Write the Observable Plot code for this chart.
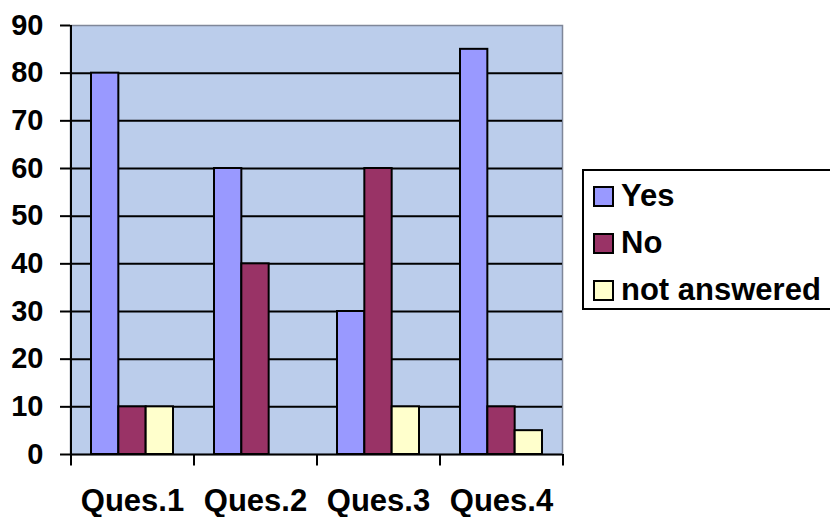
<!DOCTYPE html>
<html>
<head>
<meta charset="utf-8">
<script src="https://cdn.jsdelivr.net/npm/d3@7"></script>
<script src="https://cdn.jsdelivr.net/npm/@observablehq/plot@0.6"></script>
<style>
  html, body { margin: 0; padding: 0; background: #fff; }
  #wrap { position: relative; width: 830px; height: 517px; overflow: hidden; font-family: "Liberation Sans", Arial, sans-serif; }
  #legend { position: absolute; left: 582px; top: 169px; width: 260px; height: 137px; border: 2px solid #000; background: #fff; }
  .item { position: absolute; left: 9px; height: 30px; display: flex; align-items: center; font-weight: bold; font-size: 31px; color: #000; white-space: nowrap; }
  .sw { width: 17px; height: 17px; border: 2px solid #000; margin-right: 7px; box-sizing: content-box; }
</style>
</head>
<body>
<div id="wrap"><div id="chart"></div><div id="legend"></div></div>
<script>
const questions = ["Ques.1", "Ques.2", "Ques.3", "Ques.4"];
const yes = [80, 60, 30, 85];
const no = [10, 40, 60, 10];
const notAnswered = [10, 0, 10, 5];
const seriesNames = ["Yes", "No", "not answered"];
const seriesColors = ["#9999FF", "#993366", "#FFFFCC"];
const yTicks = [0, 10, 20, 30, 40, 50, 60, 70, 80, 90];
const gridValues = [10, 20, 30, 40, 50, 60, 70, 80];

const seriesValues = [yes, no, notAnswered];
const rows = questions.flatMap((q, i) => seriesNames.map((s, j) => ({q, s, v: seriesValues[j][i]})));

const W = 830, H = 517;
const mL = 70, mR = 268, mT = 25, mB = 63;
const step = (W - mL - mR) / questions.length;
const pad = 1 / 3;
const band = step * (1 - pad);
const sub = band / 3;

const bars = seriesNames.map((s, j) => Plot.barY(rows.filter(d => d.s === s), {
  x: "q", y: "v", fill: seriesColors[j], stroke: "#000", strokeWidth: 2,
  insetLeft: sub * j, insetRight: sub * (2 - j)
}));

const chart = Plot.plot({
  width: W, height: H,
  marginLeft: mL, marginRight: mR, marginTop: mT, marginBottom: mB,
  style: {fontFamily: "'Liberation Sans', Arial, sans-serif", fontWeight: "bold", fontSize: "29px", color: "#000", background: "transparent", overflow: "visible"},
  x: {domain: questions, paddingInner: pad, paddingOuter: pad / 2, axis: null},
  y: {domain: [0, 90], axis: null},
  marks: [
    Plot.frame({fill: "#BBCDEB", stroke: "#7f8799", strokeWidth: 1.5}),
    Plot.ruleY(gridValues, {stroke: "#000", strokeWidth: 2}),
    ...bars,
    Plot.ruleY([0], {stroke: "#000", strokeWidth: 2}),
    Plot.ruleX([questions[0]], {x: d => d, y1: -2.4, y2: 90, dx: -step / 2, stroke: "#000", strokeWidth: 2}),
    Plot.ruleX(questions, {x: d => d, y1: -2.4, y2: 0, dx: step / 2, stroke: "#000", strokeWidth: 2}),
    Plot.axisY({ticks: yTicks, tickSize: 10, tickPadding: 17, strokeWidth: 2, label: null, fontSize: 29, fontWeight: "bold"}),
    Plot.axisX({tickSize: 0, tickPadding: 34, label: null, fontSize: 31, fontWeight: "bold"})
  ]
});
document.getElementById("chart").appendChild(chart);

const legend = document.getElementById("legend");
seriesNames.forEach((s, j) => {
  const it = document.createElement("div");
  it.className = "item";
  it.style.top = (10 + j * 47) + "px";
  const sw = document.createElement("div");
  sw.className = "sw";
  sw.style.background = seriesColors[j];
  const t = document.createElement("span");
  t.textContent = s;
  it.appendChild(sw); it.appendChild(t);
  legend.appendChild(it);
});
</script>
</body>
</html>
